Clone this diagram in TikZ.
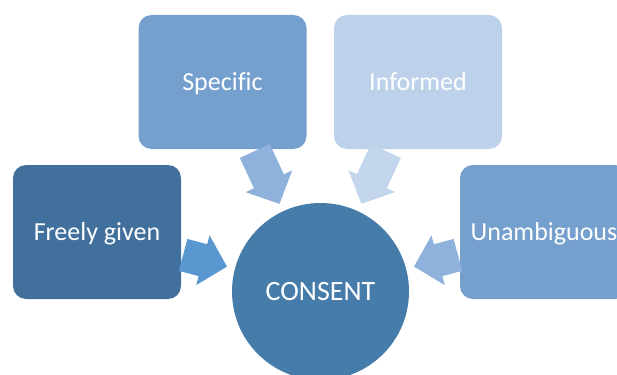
\documentclass[tikz,border=0pt]{standalone}
\usepackage{fontspec}
\setmainfont[Ligatures=CommonOff]{Carlito}
\usepackage{tikz}
\usetikzlibrary{arrows.meta, positioning}

\definecolor{deepblue}{HTML}{42709D}
\definecolor{midblue}{HTML}{75A0CE}
\definecolor{paleblue}{HTML}{BDD1EA}
\definecolor{hubblue}{HTML}{467CAA}
\definecolor{arrowdeep}{HTML}{5897D0}
\definecolor{arrowmid}{HTML}{8EB2DC}
\definecolor{arrowpale}{HTML}{C3D5EC}

\tikzset{
    item/.style={rectangle, rounded corners=13pt, minimum width=168pt, minimum height=134pt, text centered, text height=16.7pt, text depth=0pt, text=white, font=\fontsize{26}{30}\selectfont},
    hub/.style={circle, minimum size=177pt, text centered, text height=18pt, text depth=0pt, text=white, fill=hubblue, font=\fontsize{28}{32}\selectfont},
    arrow/.style={line width=33pt, -{Triangle[length=25pt, width=50pt]}, shorten <=2pt, shorten >=8pt}
}

\begin{document}
\begin{tikzpicture}[x=1pt, y=-1pt]
    \useasboundingbox (0,0) rectangle (617,374);

    \node (consent) [hub] at (320.5,291.5) {CONSENT};

    \node (freely) [item, fill=deepblue] at (97,232) {Freely given};
    \node (specific) [item, fill=midblue] at (222.5,82) {Specific};
    \node (informed) [item, fill=paleblue] at (418,82) {Informed};
    \node (unambig) [item, fill=midblue] at (544,232) {Unambiguous};

    \draw [arrow, arrowdeep] (freely) -- (consent);
    \draw [arrow, arrowmid] (specific) -- (consent);
    \draw [arrow, arrowpale] (informed) -- (consent);
    \draw [arrow, arrowmid] (unambig) -- (consent);
\end{tikzpicture}
\end{document}
